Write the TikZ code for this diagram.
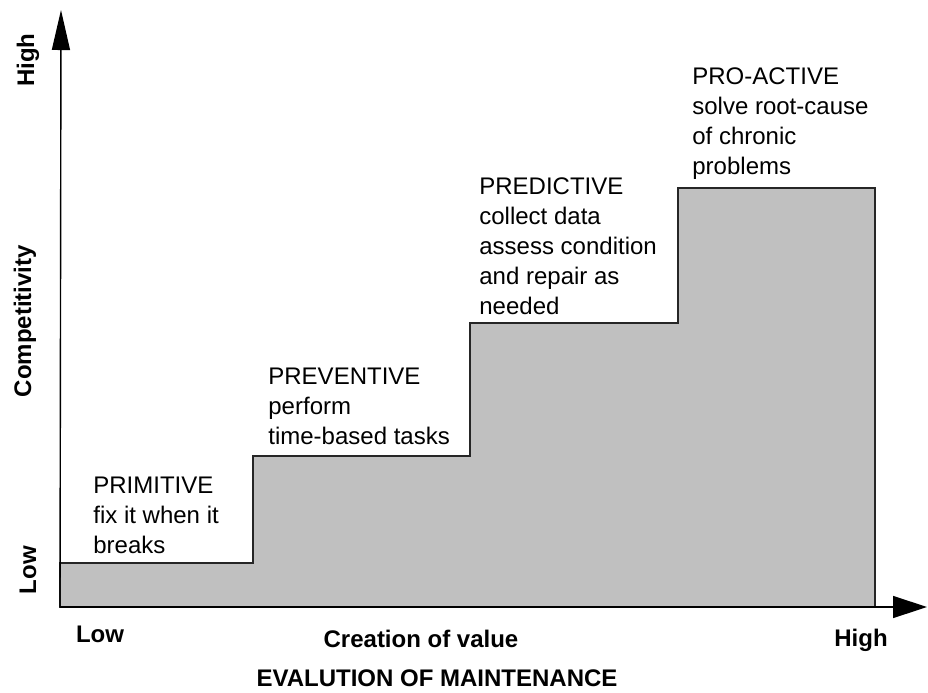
\documentclass[tikz,border=0pt]{standalone}
\usepackage{fontspec}
\setmainfont{Liberation Sans}
\usetikzlibrary{arrows.meta}
\definecolor{stepgray}{HTML}{C0C0C0}
\definecolor{edgegray}{HTML}{262626}

\begin{document}
\begin{tikzpicture}[x=0.5pt,y=-0.5pt,line join=miter,
		level/.style={font=\fontsize{12}{15}\selectfont, anchor=north west, align=left, inner sep=0pt},
		axislabel/.style={font=\fontsize{12}{15}\selectfont\bfseries, inner sep=0pt}]
	\useasboundingbox (0,0) rectangle (928,692);
	\coordinate (o) at (60,607);
	\coordinate (ytip) at (61,10);
	\coordinate (xtip) at (927,607);
	% the four steps
	\filldraw[fill=stepgray, draw=edgegray, line width=1pt]
		(o) -- (60,563) -- (253,563) -- (253,456) -- (470,456) -- (470,323)
		-- (678,323) -- (678,188) -- (875,188) -- (875,607) -- cycle;
	% axes
	\draw[line width=0.7pt, -{Triangle[length=20pt,width=9pt]}] (o) -- (ytip);
	\draw[line width=0.7pt, -{Triangle[length=17pt,width=11pt]}] (o) -- (xtip);
	% texts above each step
	\node[level] (primitive) at (93,477) {PRIMITIVE\\fix it when it\\breaks};
	\node[level] (preventive) at (268,368) {PREVENTIVE\\perform\\time-based tasks};
	\node[level] (predictive) at (479,177) {PREDICTIVE\\collect data\\assess condition\\and repair as\\needed};
	\node[level] (proactive) at (692,67) {PRO-ACTIVE\\solve root-cause\\of chronic\\problems};
	% axis labels
	\node[axislabel, rotate=90] (yhigh) at (28,60) {High};
	\node[axislabel, rotate=90] (ylabel) at (25,321) {Competitivity};
	\node[axislabel, rotate=90] (ylow) at (28,570) {Low};
	\node[axislabel, anchor=base] (xlow) at (100,642) {Low};
	\node[axislabel, anchor=base] (xlabel) at (421,647) {Creation of value};
	\node[axislabel, anchor=base] (xhigh) at (861,646) {High};
	\node[axislabel, anchor=base] (title) at (437,686) {EVALUTION OF MAINTENANCE};
\end{tikzpicture}
\end{document}
